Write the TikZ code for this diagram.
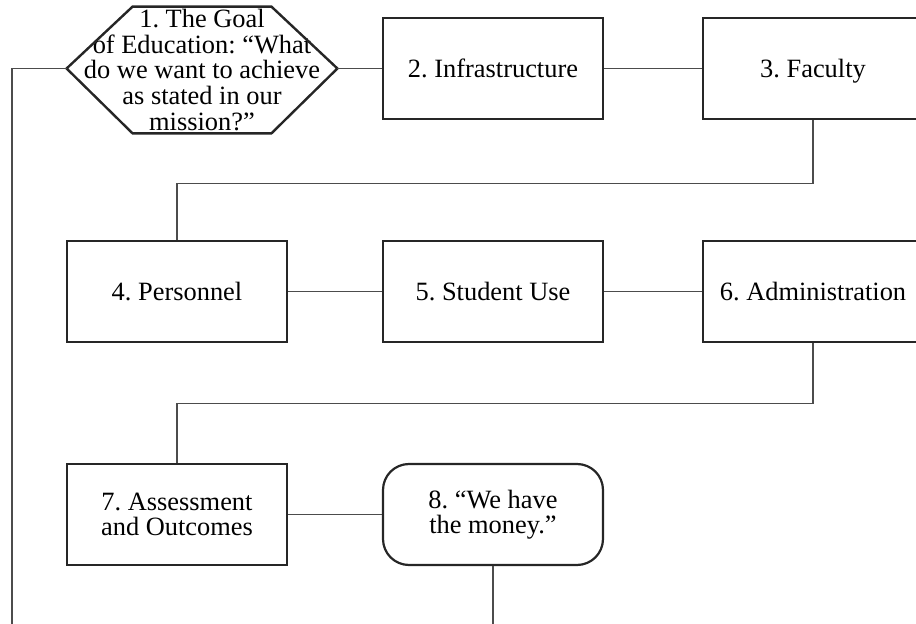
\documentclass[tikz,border=0pt]{standalone}
\usepackage{fontspec}
\setmainfont{Liberation Serif}
\usetikzlibrary{calc}
\frenchspacing
\begin{document}
\begin{tikzpicture}[x=0.5pt, y=-0.5pt,
        every text node part/.style={align=center},
        every node/.style={font=\fontsize{13.2}{12.8}\selectfont},
        stage/.style={draw=black!85, line width=1.1pt, minimum width=110pt, minimum height=50.5pt, inner sep=0pt},
        money/.style={stage, rounded corners=13pt},
        link/.style={draw=black!70, line width=0.55pt}]
        \useasboundingbox (0,0) rectangle (916,624);
        \clip (0,0) rectangle (916,624);

        \node(Goal) at (202,70)[minimum width=135pt, minimum height=63pt, inner sep=0pt]{1. The Goal\\of Education: “What\\do we want to achieve\\as stated in our\\mission?”};
        \draw[draw=black!85, line width=1.2pt] ($(Goal.west)+(0,-1.5)$) -- ($(Goal.north west)+(66,0)$) -- ($(Goal.north east)+(-66,0)$) -- ($(Goal.east)+(0,-1.5)$) -- ($(Goal.south east)+(-66,0)$) -- ($(Goal.south west)+(66,0)$) -- cycle;

        \node(Infrastructure) at (493,68.5)[stage]{2. Infrastructure};
        \node(Faculty) at (813,68.5)[stage]{3. Facult\smash{y}};
        \node(Personnel) at (177,291.5)[stage]{4. Personnel};
        \node(StudentUse) at (493,291.5)[stage]{5. Student Use};
        \node(Administration) at (813,291.5)[stage]{6. Administration};
        \node(Assessment) at (177,514.5)[stage]{7. Assessment\\and Outcomes};
        \node(Money) at (493,514.5)[money]{8. “We have\\the money.”};

        \coordinate(LoopEnd) at (12,624);
        \coordinate(MoneyEnd) at (493,624);

        \draw[link](Goal.east) ++(0,-1.5) -- (Infrastructure.west);
        \draw[link](Infrastructure.east) -- (Faculty.west);
        \draw[link](Faculty.south) -- ++(0,63) -| (Personnel.north);
        \draw[link](Personnel.east) -- (StudentUse.west);
        \draw[link](StudentUse.east) -- (Administration.west);
        \draw[link](Administration.south) -- ++(0,60) -| (Assessment.north);
        \draw[link](Assessment.east) -- (Money.west);
        \draw[link](Money.south) -- (MoneyEnd);
        \draw[link](Goal.west) ++(0,-1.5) -| (LoopEnd);

    \end{tikzpicture}
\end{document}
